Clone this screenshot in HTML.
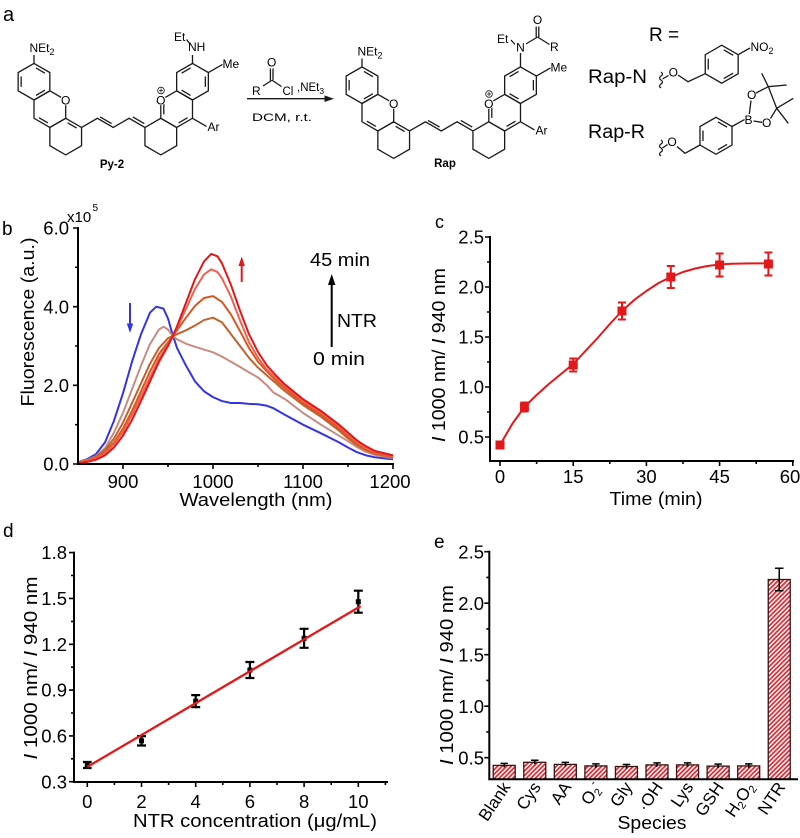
<!DOCTYPE html>
<html>
<head>
<meta charset="utf-8">
<style>
html,body{margin:0;padding:0;background:#fff;}
svg{display:block;}
text{font-family:"Liberation Sans",Arial,sans-serif;fill:#000;}
.mol path,.mol line{stroke:#1a1a1a;stroke-width:1.3;fill:none;}
.ax{stroke:#000;stroke-width:2;fill:none;stroke-linecap:square;}
.tk{stroke:#000;stroke-width:1.6;fill:none;}
.sp{fill:none;stroke-width:2;stroke-linejoin:round;vector-effect:non-scaling-stroke;}
</style>
</head>
<body>
<svg width="800" height="838" viewBox="0 0 800 838" xmlns="http://www.w3.org/2000/svg">
<defs>
<pattern id="h" patternUnits="userSpaceOnUse" width="3.2" height="3.2" patternTransform="rotate(45)">
<rect width="3.2" height="3.2" fill="#fff"/>
<rect width="1.7" height="3.2" fill="#e32630"/>
</pattern>
</defs>

<!-- ===================== Panel a ===================== -->
<text x="3" y="21" font-size="20">a</text>

<!-- Py-2 -->
<g class="mol">
<g transform="translate(34,81.7)"><path d="M0,-18.3L15.85,-9.15L15.85,9.15L0,18.3L-15.85,9.15L-15.85,-9.15Z M-12.85,5.19L-12.85,-5.19 M1.93,-13.73L10.92,-8.53 M10.92,8.53L1.93,13.73"/></g>
<g transform="translate(49.85,109.15)"><path d="M0,-18.3L15.85,-9.15L15.85,9.15L0,18.3L-15.85,9.15L-15.85,-9.15Z M-1.93,13.73L-10.92,8.53"/></g>
<g transform="translate(65.7,136.6)"><path d="M0,-18.3L15.85,-9.15L15.85,9.15L0,18.3L-15.85,9.15L-15.85,-9.15Z M1.93,-13.73L10.92,-8.53"/></g>
<path d="M81.55,127.45L97.4,118.3L113.25,127.45L129.1,118.3L144.95,127.45 M100.07,116.95L111.58,123.6 M132.77,116.95L144.28,123.6"/>
<g transform="translate(160.8,136.6)"><path d="M0,-18.3L15.85,-9.15L15.85,9.15L0,18.3L-15.85,9.15L-15.85,-9.15Z"/></g>
<g transform="translate(176.65,109.15)"><path d="M0,-18.3L15.85,-9.15L15.85,9.15L0,18.3L-15.85,9.15L-15.85,-9.15Z M10.92,8.53L1.93,13.73 M-12.85,5.19L-12.85,-5.19"/></g>
<g transform="translate(192.5,81.7)"><path d="M0,-18.3L15.85,-9.15L15.85,9.15L0,18.3L-15.85,9.15L-15.85,-9.15Z M-10.92,-8.53L-1.93,-13.73 M12.85,-5.19L12.85,5.19 M-1.93,13.73L-10.92,8.53"/></g>
<path d="M34,63.4V55 M192.5,63.4V55 M208.35,72.55L222.5,64.4 M192.5,118.3L206.5,126.4 M186.5,39.5L190.5,44.5"/>
<circle cx="65.7" cy="100" r="5.3" fill="#fff" stroke="none"/>
<circle cx="160.8" cy="100" r="5.3" fill="#fff" stroke="none"/>
<circle cx="161" cy="90.5" r="3.3" fill="#fff" stroke="#1a1a1a" stroke-width="0.8"/>
<path d="M159,90.5H163 M161,88.5V92.5" style="stroke-width:0.8"/>
</g>
<text x="65.7" y="104.3" font-size="12" text-anchor="middle">O</text>
<text x="160.8" y="104.3" font-size="12" text-anchor="middle">O</text>
<text x="29.5" y="52" font-size="12">NEt<tspan font-size="9" dy="3">2</tspan></text>
<text x="188" y="51" font-size="12">NH</text>
<text x="174" y="41" font-size="12">Et</text>
<text x="222.5" y="68" font-size="12">Me</text>
<text x="207.5" y="131" font-size="12">Ar</text>
<text x="112" y="168" font-size="11.5" font-weight="bold" text-anchor="middle">Py-2</text>

<!-- reagents + arrow -->
<g class="mol">
<path d="M263,86L271.5,80.5 M270.4,80.5V68.5 M273,79.8V68.5 M271.7,80L281.5,86.5 M247,98.7H327"/>
</g>
<polygon points="334,98.7 324.5,95.4 324.5,102" fill="#1a1a1a"/>
<text x="252" y="95" font-size="12">R</text>
<text x="271.7" y="66.5" font-size="12" text-anchor="middle">O</text>
<text x="282.5" y="95" font-size="11.5">Cl</text>
<text x="297" y="91" font-size="11.5">,NEt<tspan font-size="8.5" dy="3">3</tspan></text>
<text x="252" y="121" font-size="11" textLength="60" lengthAdjust="spacingAndGlyphs">DCM, r.t.</text>

<!-- Rap -->
<g class="mol" transform="translate(328,3.5)">
<g transform="translate(34,81.7)"><path d="M0,-18.3L15.85,-9.15L15.85,9.15L0,18.3L-15.85,9.15L-15.85,-9.15Z M-12.85,5.19L-12.85,-5.19 M1.93,-13.73L10.92,-8.53 M10.92,8.53L1.93,13.73"/></g>
<g transform="translate(49.85,109.15)"><path d="M0,-18.3L15.85,-9.15L15.85,9.15L0,18.3L-15.85,9.15L-15.85,-9.15Z M-1.93,13.73L-10.92,8.53"/></g>
<g transform="translate(65.7,136.6)"><path d="M0,-18.3L15.85,-9.15L15.85,9.15L0,18.3L-15.85,9.15L-15.85,-9.15Z M1.93,-13.73L10.92,-8.53"/></g>
<path d="M81.55,127.45L97.4,118.3L113.25,127.45L129.1,118.3L144.95,127.45 M100.07,116.95L111.58,123.6 M132.77,116.95L144.28,123.6"/>
<g transform="translate(160.8,136.6)"><path d="M0,-18.3L15.85,-9.15L15.85,9.15L0,18.3L-15.85,9.15L-15.85,-9.15Z"/></g>
<g transform="translate(176.65,109.15)"><path d="M0,-18.3L15.85,-9.15L15.85,9.15L0,18.3L-15.85,9.15L-15.85,-9.15Z M10.92,8.53L1.93,13.73 M-12.85,5.19L-12.85,-5.19"/></g>
<g transform="translate(192.5,81.7)"><path d="M0,-18.3L15.85,-9.15L15.85,9.15L0,18.3L-15.85,9.15L-15.85,-9.15Z M-10.92,-8.53L-1.93,-13.73 M12.85,-5.19L12.85,5.19 M-1.93,13.73L-10.92,8.53"/></g>
<path d="M34,63.4V55 M192.5,63.4V49.5 M208.35,72.55L222.5,64.4 M192.5,118.3L206.5,126.4"/>
<circle cx="65.7" cy="100" r="5.3" fill="#fff" stroke="none"/>
<circle cx="160.8" cy="100" r="5.3" fill="#fff" stroke="none"/>
<circle cx="161" cy="90.5" r="3.3" fill="#fff" stroke="#1a1a1a" stroke-width="0.8"/>
<path d="M159,90.5H163 M161,88.5V92.5" style="stroke-width:0.8"/>
</g>
<g class="mol">
<path d="M511,40L516,45.5 M525,44.5L537.5,37 M536.2,37V26.5 M538.8,37V26.5 M537.5,37L549.5,44.5"/>
</g>
<rect x="515" y="42" width="11" height="11" fill="#fff"/>
<text x="393.7" y="107.8" font-size="12" text-anchor="middle">O</text>
<text x="488.8" y="107.8" font-size="12" text-anchor="middle">O</text>
<text x="357.5" y="55.5" font-size="12">NEt<tspan font-size="9" dy="3">2</tspan></text>
<text x="520.5" y="51.5" font-size="12" text-anchor="middle">N</text>
<text x="497" y="43" font-size="12">Et</text>
<text x="537.5" y="24" font-size="12" text-anchor="middle">O</text>
<text x="550" y="51" font-size="12">R</text>
<text x="550.5" y="71.5" font-size="12">Me</text>
<text x="535.5" y="134.5" font-size="12">Ar</text>
<text x="445" y="167" font-size="11.5" font-weight="bold" text-anchor="middle">Rap</text>

<!-- R = substituents -->
<text x="649" y="41" font-size="19">R =</text>
<text x="588" y="83" font-size="19" textLength="59" lengthAdjust="spacingAndGlyphs">Rap-N</text>
<text x="588" y="138" font-size="19" textLength="57" lengthAdjust="spacingAndGlyphs">Rap-R</text>
<g class="mol">
<path d="M661,72 q3,2 0,4 t0,4 t0,4 t0,4"/>
<path d="M662.5,79L668.5,75.5 M678,75L688,81.7L705.25,73.7"/>
<g transform="translate(721.7,64.2)"><path d="M0,-19L16.45,-9.5L16.45,9.5L0,19L-16.45,9.5L-16.45,-9.5Z M-13.46,5.44L-13.46,-5.44 M2.02,-14.37L11.44,-8.93 M11.44,8.93L2.02,14.37"/></g>
<path d="M738.15,54.7L750,48"/>
<path d="M661,140 q3,2 0,4 t0,4 t0,4 t0,4"/>
<path d="M662.5,148L667.5,144.5 M677,146.5L685,153.3L700,145"/>
<g transform="translate(716,135.8)"><path d="M0,-18.5L16.02,-9.25L16.02,9.25L0,18.5L-16.02,9.25L-16.02,-9.25Z M-13.03,5.26L-13.03,-5.26 M1.95,-13.91L11.07,-8.65 M11.07,8.65L1.95,13.91"/></g>
<path d="M732,126.5L744.5,119.6 M749.3,114L751,100.5 M753.5,121L762,122.3 M756,93L768.3,86.7L776.7,108.3L770.5,118.5 M768.3,86.7L761.7,73.3 M768.3,86.7L786.7,85 M776.7,108.3L793.3,98.3 M776.7,108.3L788.3,123.3"/>
</g>
<text x="673.3" y="76.5" font-size="12" text-anchor="middle">O</text>
<text x="750.5" y="51" font-size="12">NO<tspan font-size="9" dy="3">2</tspan></text>
<text x="672" y="146" font-size="12" text-anchor="middle">O</text>
<text x="748.5" y="124" font-size="12" text-anchor="middle">B</text>
<text x="751.7" y="99" font-size="12" text-anchor="middle">O</text>
<text x="766.7" y="127" font-size="12" text-anchor="middle">O</text>

<!-- ===================== Panel b ===================== -->
<text x="2" y="235" font-size="19">b</text>
<g transform="translate(78,464) scale(0.9,-39.33)">
<polyline class="sp" stroke="#3535e0" points="0,0.05 10,0.12 20,0.25 30,0.55 40,1.1 50,1.8 60,2.6 70,3.3 80,3.85 87,4.0 95,3.95 100,3.7 105,3.3 110,2.95 120,2.5 130,2.1 140,1.85 150,1.7 160,1.6 170,1.55 180,1.55 190,1.53 200,1.52 210,1.48 217,1.42 230,1.25 250,1.0 270,0.78 290,0.55 300,0.42 310,0.3 320,0.22 330,0.17 350,0.12"/>
<polyline class="sp" stroke="#c98c80" points="0,0.05 10,0.1 20,0.2 30,0.4 40,0.8 50,1.3 60,1.9 70,2.5 80,3.05 90,3.42 95,3.49 100,3.42 105,3.26 110,3.17 120,3.06 130,2.98 140,2.91 150,2.84 160,2.73 170,2.6 180,2.47 190,2.33 200,2.2 210,2.0 217,1.82 230,1.65 250,1.3 270,1.0 290,0.72 300,0.58 310,0.43 320,0.31 330,0.23 350,0.15"/>
<polyline class="sp" stroke="#c4622c" points="0,0.04 10,0.09 20,0.18 30,0.35 40,0.65 50,1.05 60,1.55 70,2.05 80,2.55 90,2.95 100,3.2 105,3.25 110,3.3 120,3.4 130,3.52 140,3.66 150,3.72 160,3.6 170,3.3 180,3.0 190,2.7 200,2.45 210,2.25 220,2.05 230,1.85 250,1.5 270,1.2 290,0.85 300,0.65 310,0.48 320,0.35 330,0.26 350,0.17"/>
<polyline class="sp" stroke="#d9561f" points="0,0.03 10,0.08 20,0.16 30,0.3 40,0.55 50,0.9 60,1.35 70,1.85 80,2.35 90,2.8 100,3.1 105,3.24 110,3.4 120,3.72 130,4.02 140,4.22 150,4.27 160,4.12 170,3.8 180,3.38 190,2.95 200,2.6 210,2.35 220,2.12 230,1.92 250,1.55 270,1.25 290,0.9 300,0.7 310,0.52 320,0.38 330,0.28 350,0.18"/>
<polyline class="sp" stroke="#f0614f" points="0,0.03 10,0.07 20,0.14 30,0.27 40,0.5 50,0.82 60,1.25 70,1.72 80,2.2 90,2.68 100,3.05 105,3.24 110,3.45 120,3.95 130,4.45 140,4.82 148,4.95 155,4.88 160,4.72 170,4.25 180,3.65 190,3.1 200,2.7 210,2.4 220,2.18 230,1.97 250,1.6 270,1.3 290,0.95 300,0.75 310,0.55 320,0.4 330,0.3 350,0.2"/>
<polyline class="sp" stroke="#e3181a" points="0,0.02 10,0.05 20,0.11 30,0.22 40,0.42 50,0.72 60,1.12 70,1.6 80,2.1 90,2.6 100,3.0 105,3.24 110,3.5 120,4.1 130,4.7 140,5.15 148,5.34 155,5.28 160,5.1 170,4.55 180,3.9 190,3.3 200,2.85 210,2.5 220,2.25 230,2.02 250,1.65 270,1.35 290,1.0 300,0.8 310,0.6 320,0.45 330,0.33 350,0.22"/>
</g>
<path class="ax" d="M78,228V464H393"/>
<path class="tk" d="M73,464H78 M73,385.3H78 M73,306.7H78 M73,228H78 M75,424.7H78 M75,346H78 M75,267.3H78 M123,464V469 M213,464V469 M303,464V469 M393,464V469 M168,464V467 M258,464V467 M348,464V467"/>
<g font-size="18.5" text-anchor="end">
<text x="69" y="470.6">0.0</text>
<text x="69" y="391.9">2.0</text>
<text x="69" y="313.3">4.0</text>
<text x="69" y="234.6">6.0</text>
</g>
<text x="67" y="222" font-size="15">x10</text>
<text x="92.5" y="211" font-size="10">5</text>
<g font-size="18.5" text-anchor="middle">
<text x="123" y="488">900</text>
<text x="213" y="488">1000</text>
<text x="303" y="488">1100</text>
<text x="390" y="488">1200</text>
</g>
<text x="256" y="506" font-size="18.5" text-anchor="middle" textLength="153" lengthAdjust="spacingAndGlyphs">Wavelength (nm)</text>
<text transform="translate(34,322) rotate(-90)" font-size="18.5" text-anchor="middle" textLength="169" lengthAdjust="spacingAndGlyphs">Fluorescence (a.u.)</text>
<text x="310" y="266" font-size="18.5" textLength="60" lengthAdjust="spacingAndGlyphs">45 min</text>
<text x="337" y="327" font-size="18.5" textLength="40" lengthAdjust="spacingAndGlyphs">NTR</text>
<text x="313" y="365" font-size="18.5" textLength="52" lengthAdjust="spacingAndGlyphs">0 min</text>
<path d="M331.7,347V282" stroke="#000" stroke-width="2"/>
<polygon points="331.7,274 328,285 335.4,285" fill="#000"/>
<path d="M241.7,282V264" stroke="#e3181a" stroke-width="2"/>
<polygon points="241.7,256.5 238.5,266 244.9,266" fill="#e3181a"/>
<path d="M130,303V325" stroke="#3535e0" stroke-width="2"/>
<polygon points="130,333 126.8,323.5 133.2,323.5" fill="#3535e0"/>

<!-- ===================== Panel c ===================== -->
<text x="435" y="228" font-size="18">c</text>
<g transform="translate(500,487) scale(4.88,-100)">
<polyline class="sp" stroke="#e3181a" stroke-width="2.2" points="0,0.42 2.5,0.63 5,0.8 7.5,0.92 10,1.03 12.5,1.13 15,1.23 17.5,1.36 20,1.49 22.5,1.63 25,1.76 27.5,1.87 30,1.96 32.5,2.04 35,2.1 37.5,2.15 40,2.185 42.5,2.21 45,2.225 47.5,2.232 50,2.235 52.5,2.236 55,2.237"/>
</g>
<g stroke="#e3181a" stroke-width="2" fill="none">
<path d="M500,442V448 M524.4,402.5V411.5 M520.4,402.5H528.4 M520.4,411.5H528.4 M573.2,358.5V371.5 M569.2,358.5H577.2 M569.2,371.5H577.2 M622,302.5V319.5 M618,302.5H626 M618,319.5H626 M670.8,266V288 M666.8,266H674.8 M666.8,288H674.8 M719.6,253.5V276.5 M715.6,253.5H723.6 M715.6,276.5H723.6 M768.4,252.5V275.5 M764.4,252.5H772.4 M764.4,275.5H772.4"/>
</g>
<g fill="#e3181a">
<rect x="495.5" y="440.5" width="9" height="9"/>
<rect x="519.9" y="402.5" width="9" height="9"/>
<rect x="568.7" y="360.5" width="9" height="9"/>
<rect x="617.5" y="306.5" width="9" height="9"/>
<rect x="666.3" y="272.5" width="9" height="9"/>
<rect x="715.1" y="260.5" width="9" height="9"/>
<rect x="763.9" y="259.5" width="9" height="9"/>
</g>
<path class="ax" d="M490,237V461H793"/>
<path class="tk" d="M485,437H490 M485,387H490 M485,337H490 M485,287H490 M485,237H490 M487,412H490 M487,362H490 M487,312H490 M487,262H490 M500,461V466 M573.2,461V466 M646.4,461V466 M719.6,461V466 M792.8,461V466 M536.6,461V464 M609.8,461V464 M683,461V464 M756.2,461V464"/>
<g font-size="18.5" text-anchor="end">
<text x="484" y="443.6">0.5</text>
<text x="484" y="393.6">1.0</text>
<text x="484" y="343.6">1.5</text>
<text x="484" y="293.6">2.0</text>
<text x="484" y="243.6">2.5</text>
</g>
<g font-size="18.5" text-anchor="middle">
<text x="500" y="483">0</text>
<text x="573.2" y="483">15</text>
<text x="646.4" y="483">30</text>
<text x="719.6" y="483">45</text>
<text x="790" y="483">60</text>
</g>
<text x="656" y="505" font-size="18.5" text-anchor="middle" textLength="93" lengthAdjust="spacingAndGlyphs">Time (min)</text>
<text transform="translate(445,355) rotate(-90)" font-size="18.5" text-anchor="middle" textLength="174" lengthAdjust="spacingAndGlyphs"><tspan font-style="italic">I</tspan> 1000 nm/ <tspan font-style="italic">I</tspan> 940 nm</text>

<!-- ===================== Panel d ===================== -->
<text x="3" y="537" font-size="19">d</text>
<g stroke="#000" stroke-width="2.2" fill="none">
<path d="M87.3,762V768 M83,762H91.6 M83,768H91.6 M141.5,736.1V745.5 M137,736.1H146 M137,745.5H146 M195.7,695.1V707.1 M191.2,695.1H200.2 M191.2,707.1H200.2 M249.9,662V678 M245.4,662H254.4 M245.4,678H254.4 M304.1,628.8V647.8 M299.6,628.8H308.6 M299.6,647.8H308.6 M358.3,590.7V612.7 M353.8,590.7H362.8 M353.8,612.7H362.8"/>
</g>
<g fill="#000">
<rect x="84.8" y="762.5" width="5" height="5"/>
<rect x="139" y="738.3" width="5" height="5"/>
<rect x="193.2" y="698.6" width="5" height="5"/>
<rect x="247.4" y="667.6" width="5" height="5"/>
<rect x="301.6" y="635.8" width="5" height="5"/>
<rect x="355.8" y="599.2" width="5" height="5"/>
</g>
<line x1="87.3" y1="766.9" x2="360.7" y2="606.1" stroke="#e3181a" stroke-width="2.3"/>
<path class="ax" d="M74,552.6V782H387"/>
<path class="tk" d="M69,781.7H74 M69,735.9H74 M69,690.1H74 M69,644.3H74 M69,598.4H74 M69,552.6H74 M71,758.8H74 M71,713H74 M71,667.2H74 M71,621.4H74 M71,575.5H74 M87.3,782V787 M141.5,782V787 M195.7,782V787 M249.9,782V787 M304.1,782V787 M358.3,782V787 M114.4,782V785 M168.6,782V785 M222.8,782V785 M277,782V785 M331.2,782V785 M385.4,782V785"/>
<g font-size="18.5" text-anchor="end">
<text x="67" y="788.3">0.3</text>
<text x="67" y="742.5">0.6</text>
<text x="67" y="696.7">0.9</text>
<text x="67" y="650.9">1.2</text>
<text x="67" y="605">1.5</text>
<text x="67" y="559.2">1.8</text>
</g>
<g font-size="18.5" text-anchor="middle">
<text x="87.3" y="808">0</text>
<text x="141.5" y="808">2</text>
<text x="195.7" y="808">4</text>
<text x="249.9" y="808">6</text>
<text x="304.1" y="808">8</text>
<text x="358.3" y="808">10</text>
</g>
<text x="255" y="827" font-size="18.5" text-anchor="middle" textLength="244" lengthAdjust="spacingAndGlyphs">NTR concentration (μg/mL)</text>
<text transform="translate(37,668) rotate(-90)" font-size="18.5" text-anchor="middle" textLength="183" lengthAdjust="spacingAndGlyphs"><tspan font-style="italic">I</tspan> 1000 nm/ <tspan font-style="italic">I</tspan> 940 nm</text>

<!-- ===================== Panel e ===================== -->
<text x="434" y="548" font-size="19">e</text>
<g fill="url(#h)" stroke="#3a1414" stroke-width="1.3">
<rect x="493.2" y="765.4" width="22" height="13.9"/>
<rect x="523.76" y="762.3" width="22" height="17"/>
<rect x="554.32" y="764.4" width="22" height="14.9"/>
<rect x="584.88" y="765.9" width="22" height="13.4"/>
<rect x="615.44" y="766.5" width="22" height="12.8"/>
<rect x="646" y="764.9" width="22" height="14.4"/>
<rect x="676.56" y="764.9" width="22" height="14.4"/>
<rect x="707.12" y="766.1" width="22" height="13.2"/>
<rect x="737.68" y="765.9" width="22" height="13.4"/>
<rect x="768.24" y="579.5" width="22" height="199.8"/>
</g>
<g stroke="#000" stroke-width="1.5" fill="none">
<path d="M504.2,763.4V767.4 M500.5,763.4H507.9 M534.76,760.3V764.3 M531,760.3H538.5 M565.32,762.4V766.4 M561.6,762.4H569 M595.88,763.9V767.9 M592.2,763.9H599.6 M626.44,764.5V768.5 M622.7,764.5H630.2 M657,762.9V766.9 M653.3,762.9H660.7 M687.56,762.9V766.9 M683.9,762.9H691.3 M718.12,764.1V768.1 M714.4,764.1H721.8 M748.68,763.9V767.9 M745,763.9H752.4 M779.24,568.2V590.8 M775,568.2H783.5 M775,590.8H783.5"/>
</g>
<path class="ax" d="M489.3,551.7V779.3H797"/>
<path class="tk" d="M484.3,757.7H489.3 M484.3,706.2H489.3 M484.3,654.7H489.3 M484.3,603.2H489.3 M484.3,551.7H489.3 M486.3,731.95H489.3 M486.3,680.45H489.3 M486.3,628.95H489.3 M486.3,577.45H489.3"/>
<g font-size="18.5" text-anchor="end">
<text x="484" y="764.3">0.5</text>
<text x="484" y="712.8">1.0</text>
<text x="484" y="661.3">1.5</text>
<text x="484" y="609.8">2.0</text>
<text x="484" y="558.3">2.5</text>
</g>
<g font-size="17" text-anchor="end">
<text transform="translate(511,787) rotate(-56)">Blank</text>
<text transform="translate(541.5,787) rotate(-56)">Cys</text>
<text transform="translate(572,787) rotate(-56)">AA</text>
<text transform="translate(602.5,787) rotate(-56)">O<tspan font-size="11" dy="3">2</tspan><tspan font-size="11" dy="-10">-</tspan></text>
<text transform="translate(633,787) rotate(-56)">Gly</text>
<text transform="translate(663.5,787) rotate(-56)">·OH</text>
<text transform="translate(694,787) rotate(-56)">Lys</text>
<text transform="translate(724.5,787) rotate(-56)">GSH</text>
<text transform="translate(755,787) rotate(-56)">H<tspan font-size="11" dy="3">2</tspan><tspan dy="-3">O</tspan><tspan font-size="11" dy="3">2</tspan></text>
<text transform="translate(786,787) rotate(-56)">NTR</text>
</g>
<text x="652" y="829" font-size="18.5" text-anchor="middle" textLength="69" lengthAdjust="spacingAndGlyphs">Species</text>
<text transform="translate(453,675) rotate(-90)" font-size="18.5" text-anchor="middle" textLength="180" lengthAdjust="spacingAndGlyphs"><tspan font-style="italic">I</tspan> 1000 nm/ <tspan font-style="italic">I</tspan> 940 nm</text>
</svg>
</body>
</html>
